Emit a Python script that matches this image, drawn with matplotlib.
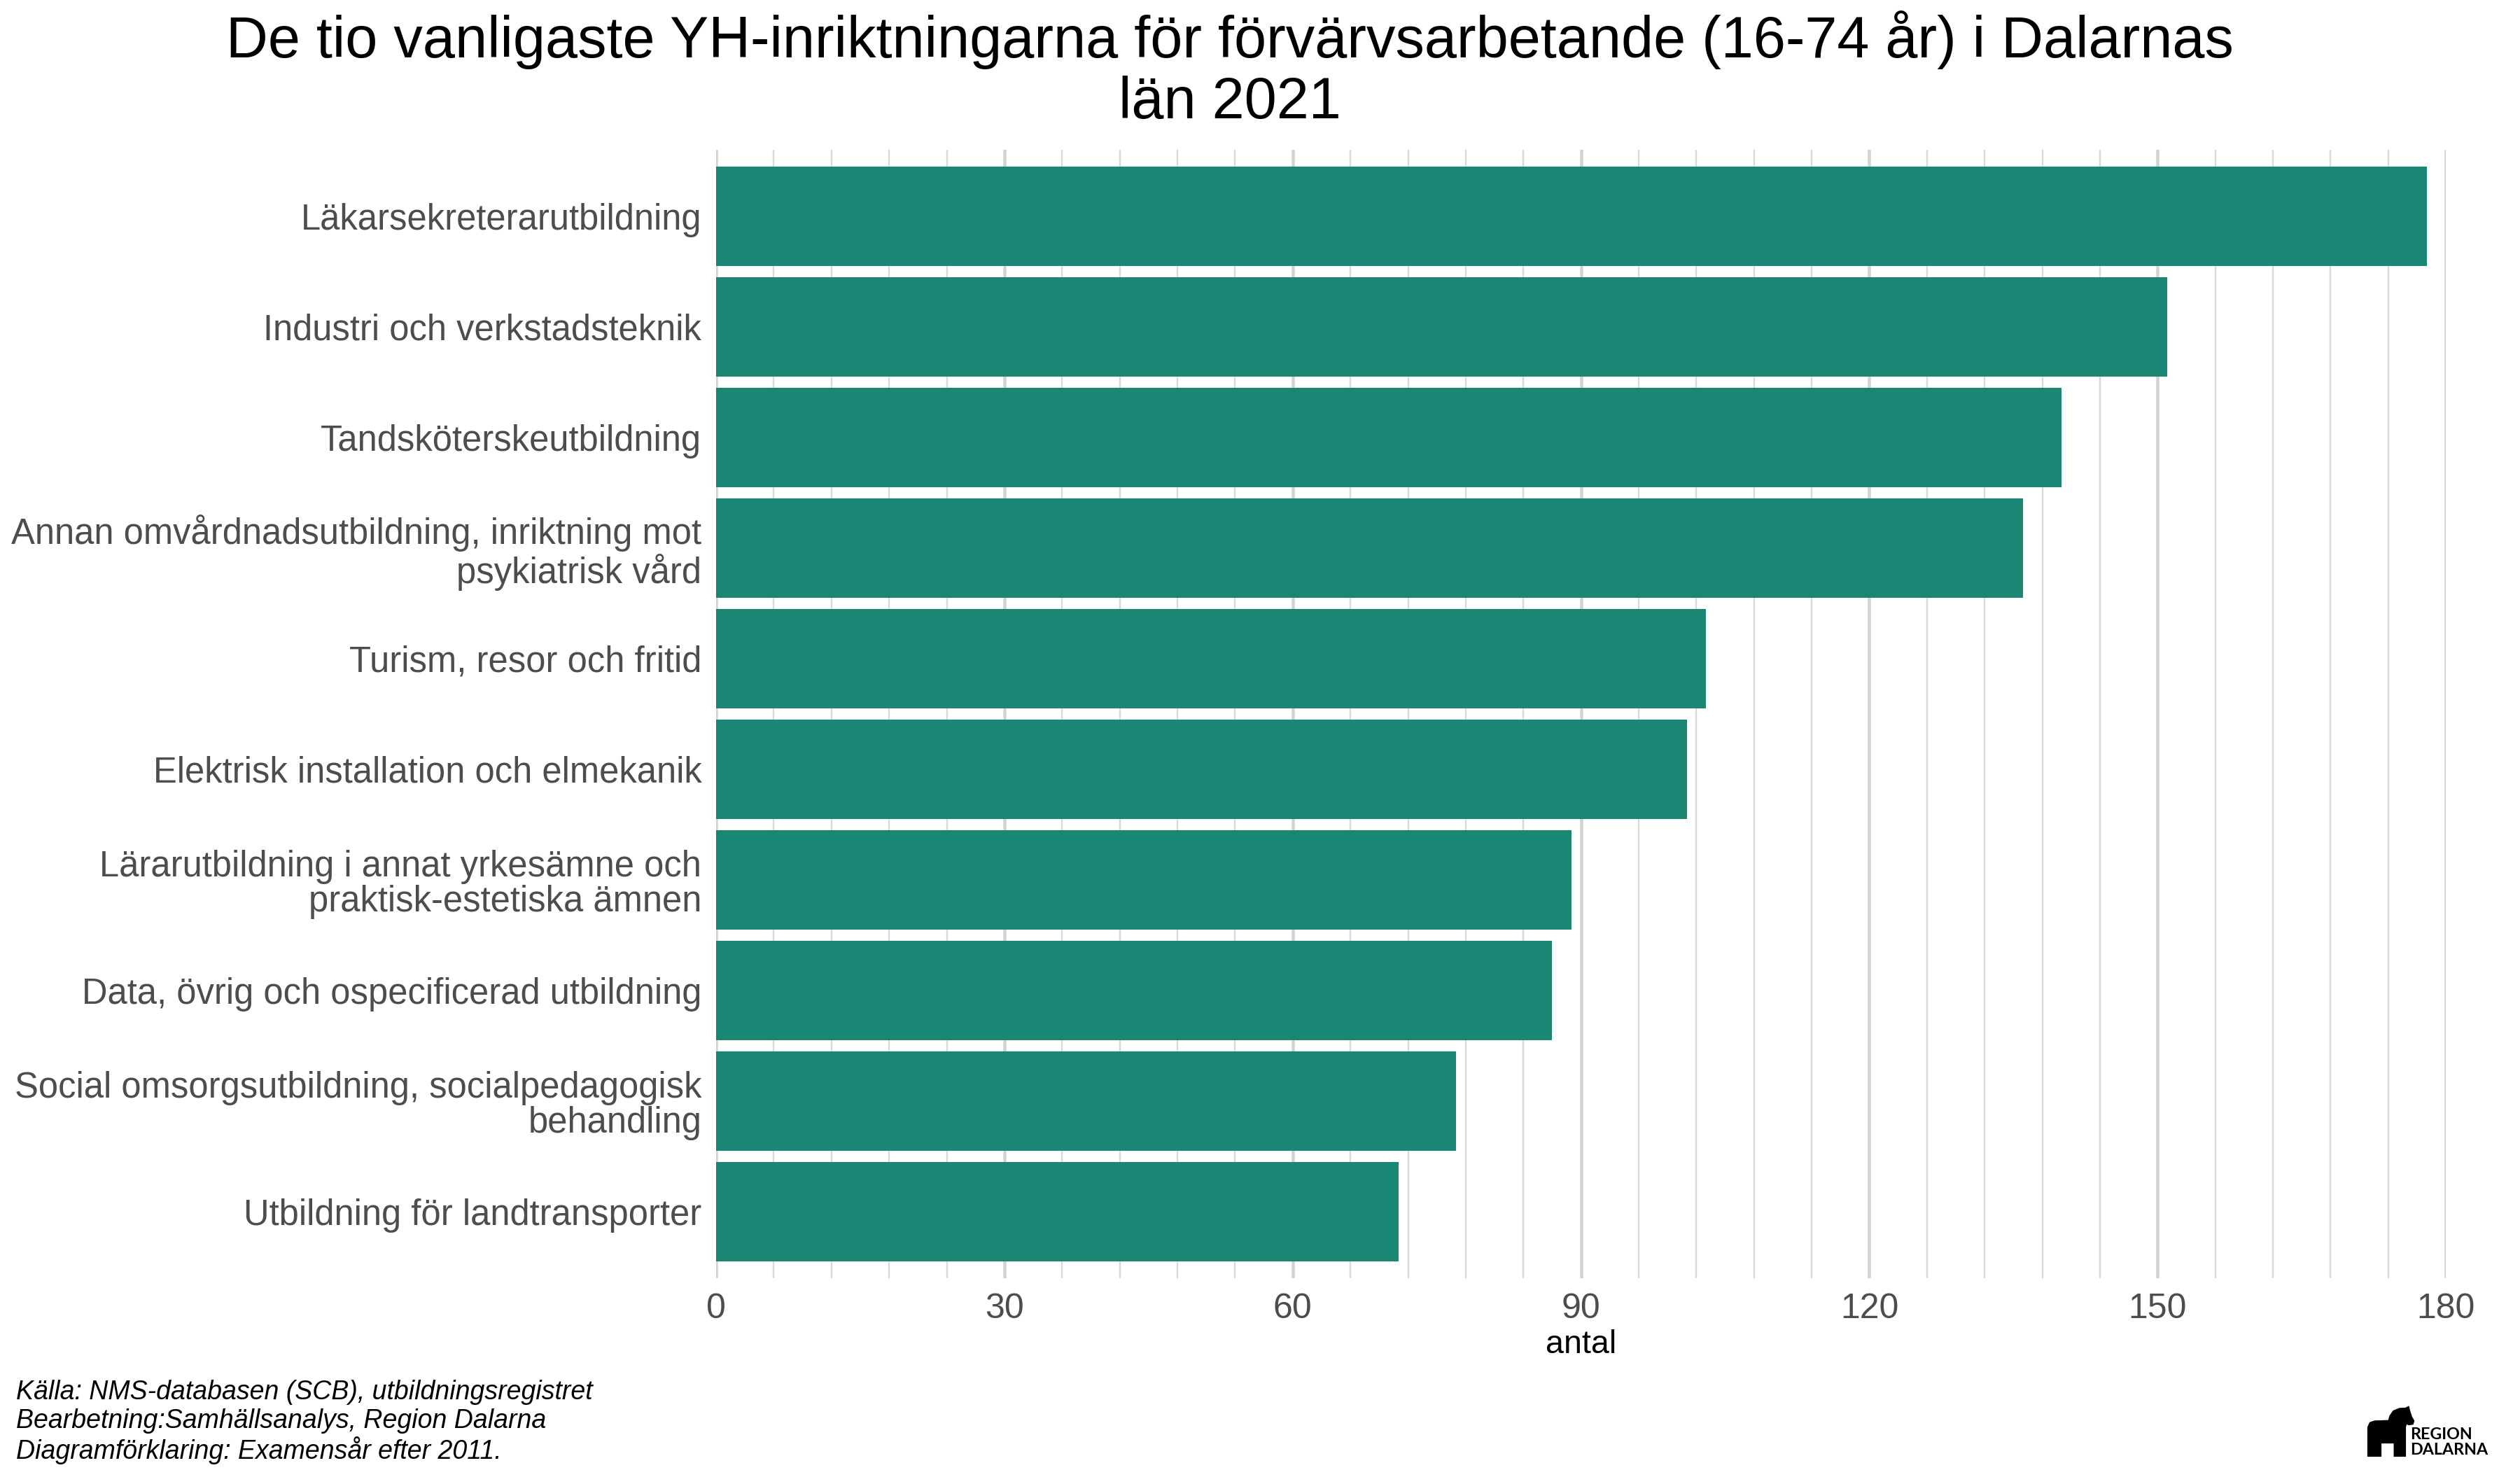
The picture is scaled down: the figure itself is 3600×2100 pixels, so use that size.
import matplotlib
matplotlib.use("Agg")
import matplotlib.pyplot as plt
from matplotlib.ticker import FixedLocator
from matplotlib.patches import Polygon

plt.rcParams['font.family'] = ['Liberation Sans', 'DejaVu Sans']

# data
inriktning = [
    "Läkarsekreterarutbildning",
    "Industri och verkstadsteknik",
    "Tandsköterskeutbildning",
    "Annan omvårdnadsutbildning, inriktning mot\npsykiatrisk vård",
    "Turism, resor och fritid",
    "Elektrisk installation och elmekanik",
    "Lärarutbildning i annat yrkesämne och\npraktisk-estetiska ämnen",
    "Data, övrig och ospecificerad utbildning",
    "Social omsorgsutbildning, socialpedagogisk\nbehandling",
    "Utbildning för landtransporter",
]
antal = [178, 151, 140, 136, 103, 101, 89, 87, 77, 71]
x_ticks = [0, 30, 60, 90, 120, 150, 180]

title = "De tio vanligaste YH-inriktningarna för förvärvsarbetande (16-74 år) i Dalarnas\nlän 2021"
caption = ("Källa: NMS-databasen (SCB), utbildningsregistret\n"
           "Bearbetning:Samhällsanalys, Region Dalarna\n"
           "Diagramförklaring: Examensår efter 2011.")

fig = plt.figure(figsize=(12, 7), dpi=300)
ax = fig.add_axes([0.2842, 0.1305, 0.6864, 0.7676])

pos = list(range(len(antal)))
ax.barh(pos, antal, height=0.9, color="#198773", zorder=2)
ax.set_ylim(len(antal) - 0.4, -0.6)
ax.set_xlim(0, 180)

ax.set_yticks(pos)
ax.set_yticklabels(inriktning, fontsize=12.2, color="#4D4D4D", linespacing=1.05)
ax.xaxis.set_major_locator(FixedLocator(x_ticks))
ax.xaxis.set_minor_locator(FixedLocator(list(range(0, 181, 6))))
ax.set_xticklabels([str(t) for t in x_ticks], fontsize=12, color="#4D4D4D")
ax.tick_params(axis='both', which='both', length=0)
ax.tick_params(axis='y', pad=5)
ax.tick_params(axis='x', pad=5)

ax.grid(axis='x', which='major', color="#D3D3D3", linewidth=1.1, zorder=0)
ax.grid(axis='x', which='minor', color="#D8D8D8", linewidth=0.55, zorder=0)
ax.grid(axis='y', visible=False)
for s in ax.spines.values():
    s.set_visible(False)

ax.set_xlabel("antal", fontsize=11.2, color="black", labelpad=1.5)

fig.text(0.488, 0.993, title, ha='center', va='top', fontsize=19.9, linespacing=1.15)
fig.text(0.0064, 0.0612, caption, ha='left', va='top', fontsize=9,
         style='italic', linespacing=1.15)

# logo: simple horse silhouette + text
horse = [(252, 297), (252, 178), (260, 160), (278, 154), (340, 152), (346, 130),
         (360, 110), (385, 100), (410, 99), (420, 94), (424, 110), (432, 134),
         (441, 150), (438, 160), (424, 162), (410, 156), (405, 175), (405, 297),
         (365, 297), (365, 240), (300, 240), (300, 297)]
pts = [((3300 + dx / 3) / 3600, 1 - (1980 + dy / 3) / 2100) for dx, dy in horse]
fig.patches.append(Polygon(pts, closed=True, color='black', transform=fig.transFigure))
fig.text((3443) / 3600, 1 - 2049 / 2100, "REGION", fontsize=5.6, fontweight='bold',
         family=['Lato', 'DejaVu Sans'], ha='left', va='center')
fig.text((3443) / 3600, 1 - 2071 / 2100, "DALARNA", fontsize=5.6, fontweight='bold',
         family=['Lato', 'DejaVu Sans'], ha='left', va='center')

fig.savefig("out.png", dpi=300)
